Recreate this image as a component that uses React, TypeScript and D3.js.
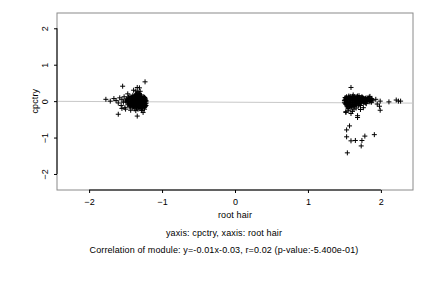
import React, { useEffect, useRef } from 'react';
import * as d3 from 'd3';

// x = root hair, y = cpctry
const leftCore: [number, number][] = [
  [-1.48, 0.02], [-1.46, -0.05], [-1.45, 0.08], [-1.44, -0.12], [-1.43, 0.03], [-1.42, -0.08],
  [-1.41, 0.12], [-1.40, -0.02], [-1.40, 0.06], [-1.39, -0.15], [-1.38, 0.10], [-1.38, -0.06],
  [-1.37, 0.01], [-1.37, 0.15], [-1.36, -0.10], [-1.36, 0.05], [-1.35, -0.18], [-1.35, 0.20],
  [-1.34, -0.03], [-1.34, 0.09], [-1.33, -0.13], [-1.33, 0.25], [-1.32, 0.02], [-1.32, -0.07],
  [-1.31, 0.14], [-1.31, -0.16], [-1.30, 0.06], [-1.30, -0.01], [-1.29, -0.11], [-1.29, 0.11],
  [-1.28, 0.03], [-1.28, -0.19], [-1.27, -0.05], [-1.27, 0.08], [-1.26, -0.13], [-1.26, 0.01],
  [-1.25, 0.05], [-1.25, -0.09], [-1.24, -0.02], [-1.24, 0.10], [-1.23, -0.15], [-1.23, 0.04],
  [-1.22, -0.06], [-1.22, 0.02], [-1.47, -0.10], [-1.49, 0.06], [-1.44, 0.13], [-1.42, 0.00],
  [-1.39, 0.04], [-1.36, -0.14], [-1.34, 0.16], [-1.32, 0.19], [-1.30, -0.20], [-1.28, 0.13],
  [-1.26, 0.09], [-1.24, -0.17], [-1.41, -0.18], [-1.45, -0.16], [-1.38, -0.21], [-1.33, -0.22],
  [-1.29, -0.04], [-1.35, 0.07], [-1.31, -0.09], [-1.27, -0.12], [-1.43, -0.03], [-1.40, 0.16],
  [-1.37, -0.04], [-1.25, 0.12], [-1.23, -0.08], [-1.22, -0.12],
  [-1.47, 0.05], [-1.46, -0.01], [-1.45, -0.07], [-1.44, 0.07], [-1.43, -0.14], [-1.42, 0.09],
  [-1.41, -0.04], [-1.41, 0.03], [-1.40, -0.10], [-1.39, 0.08], [-1.39, -0.06], [-1.38, 0.02],
  [-1.38, 0.13], [-1.37, -0.12], [-1.37, 0.07], [-1.36, 0.00], [-1.36, 0.11], [-1.35, -0.06],
  [-1.35, 0.02], [-1.34, -0.12], [-1.34, 0.04], [-1.33, -0.05], [-1.33, 0.11], [-1.32, -0.14],
  [-1.32, 0.08], [-1.31, 0.00], [-1.31, 0.05], [-1.30, -0.07], [-1.30, 0.12], [-1.29, 0.02],
  [-1.29, -0.16], [-1.28, -0.08], [-1.28, 0.07], [-1.27, 0.00], [-1.27, -0.17], [-1.26, -0.05],
  [-1.26, 0.05], [-1.25, -0.13], [-1.25, 0.00], [-1.24, 0.06], [-1.24, -0.10], [-1.23, 0.00],
  [-1.23, 0.08], [-1.22, -0.02], [-1.34, 0.22], [-1.36, 0.18], [-1.31, 0.21], [-1.29, 0.17],
  [-1.33, -0.18], [-1.27, -0.21], [-1.40, -0.13], [-1.46, 0.11], [-1.48, -0.03], [-1.50, 0.00],
];

const leftOutliers: [number, number][] = [
  [-1.77, 0.05], [-1.71, 0.0], [-1.66, 0.07], [-1.63, 0.02], [-1.60, -0.05], [-1.58, 0.09],
  [-1.56, -0.12], [-1.55, 0.04], [-1.53, -0.03], [-1.52, 0.12], [-1.51, -0.18], [-1.60, -0.36],
  [-1.34, -0.41], [-1.26, -0.31], [-1.233, 0.53], [-1.54, 0.41], [-1.34, 0.375], [-1.31, 0.365],
  [-1.39, 0.30], [-1.36, 0.28], [-1.30, 0.27], [-1.47, 0.20], [-1.55, -0.20], [-1.50, -0.22],
  [-1.43, -0.25], [-1.36, -0.26], [-1.28, -0.26], [-1.24, -0.22],
];

const rightCore: [number, number][] = [
  [1.50, 0.02], [1.51, -0.06], [1.52, 0.08], [1.53, -0.02], [1.54, 0.05], [1.55, -0.10],
  [1.56, 0.11], [1.57, 0.00], [1.58, -0.05], [1.59, 0.07], [1.60, -0.12], [1.61, 0.03],
  [1.62, 0.10], [1.63, -0.04], [1.64, 0.06], [1.65, -0.08], [1.66, 0.01], [1.67, 0.12],
  [1.68, -0.02], [1.69, 0.05], [1.70, -0.10], [1.71, 0.08], [1.72, 0.00], [1.73, -0.06],
  [1.74, 0.04], [1.75, 0.10], [1.76, -0.03], [1.77, 0.02], [1.78, 0.07], [1.79, -0.05],
  [1.80, 0.03], [1.81, 0.09], [1.82, -0.01], [1.83, 0.04], [1.84, 0.00], [1.85, 0.06],
  [1.86, 0.02], [1.87, -0.03], [1.88, 0.05], [1.89, 0.01], [1.51, 0.10], [1.53, -0.13],
  [1.55, 0.04], [1.57, -0.15], [1.58, 0.13], [1.60, 0.02], [1.62, -0.09], [1.64, -0.14],
  [1.66, 0.08], [1.68, 0.14], [1.70, 0.03], [1.72, -0.12], [1.74, 0.12], [1.52, -0.09],
  [1.54, -0.16], [1.56, -0.04], [1.59, -0.18], [1.61, 0.13], [1.63, 0.04], [1.65, 0.09],
  [1.67, -0.06], [1.69, -0.13], [1.71, 0.00], [1.73, 0.06], [1.76, 0.08], [1.78, -0.02],
  [1.80, -0.07], [1.82, 0.06], [1.84, 0.11],
  [1.50, -0.03], [1.51, 0.05], [1.52, 0.01], [1.53, 0.06], [1.54, -0.07], [1.55, 0.08],
  [1.56, -0.10], [1.57, 0.05], [1.58, 0.00], [1.59, -0.09], [1.60, 0.09], [1.61, -0.05],
  [1.62, 0.03], [1.63, 0.11], [1.64, -0.02], [1.65, 0.03], [1.66, -0.11], [1.67, 0.05],
  [1.68, 0.08], [1.69, -0.06], [1.70, 0.10], [1.71, -0.04], [1.72, 0.05], [1.73, 0.10],
  [1.74, -0.02], [1.75, 0.02], [1.76, 0.05], [1.77, -0.04], [1.78, 0.04], [1.79, 0.08],
  [1.80, 0.00], [1.81, 0.04], [1.83, 0.08], [1.85, -0.02], [1.87, 0.07], [1.53, 0.12],
  [1.56, 0.14], [1.60, -0.15], [1.58, -0.12], [1.55, -0.14], [1.62, -0.13], [1.57, 0.09],
  [1.64, 0.12], [1.66, -0.03], [1.69, 0.10],
];

const rightOutliers: [number, number][] = [
  [1.59, 0.375], [1.93, 0.05], [1.99, 0.0], [2.11, -0.02], [2.21, 0.03], [2.24, 0.0],
  [2.27, 0.0], [1.52, -0.31], [1.59, -0.34], [1.63, -0.22], [1.68, -0.45], [1.72, -0.23],
  [1.98, -0.14], [1.99, -0.25], [1.68, -0.40], [1.52, -0.29], [1.57, -0.68], [1.53, -0.79],
  [1.53, -0.98], [1.59, -1.09], [1.65, -1.08], [1.78, -0.96], [1.74, -1.08], [1.91, -0.92],
  [1.54, -1.42], [1.73, -1.23], [1.56, -0.25], [1.61, -0.28], [1.55, -0.20], [1.66, -0.19],
  [1.76, -0.18], [1.62, 0.17], [1.70, 0.15], [1.85, 0.13], [1.95, -0.08],
];

const xTicks = [-2, -1, 0, 1, 2];
const yTicks = [-2, -1, 0, 1, 2];
const fit = { slope: -0.01, intercept: -0.03 };

const xLabel = 'root hair';
const yLabel = 'cpctry';
const caption1 = 'yaxis: cpctry, xaxis: root hair';
const caption2 = 'Correlation of module: y=-0.01x-0.03, r=0.02 (p-value:-5.400e-01)';

export default function App() {
  const svgRef = useRef<SVGSVGElement>(null);

  useEffect(() => {
    if (!svgRef.current) return;
    const svg = d3.select(svgRef.current);
    svg.selectAll('*').remove();

    const left = 57, right = 413, top = 13, bottom = 190;
    const captionX = 224;
    const x = d3.scaleLinear().domain([-2.44, 2.44]).range([left, right]);
    const y = d3.scaleLinear().domain([-2.44, 2.42]).range([bottom, top]);
    const font = "'Liberation Sans', Arial, Helvetica, sans-serif";
    const txt = (sel: d3.Selection<any, any, any, any>) =>
      sel.style('font-family', font).style('font-size', '9px').style('letter-spacing', '0.12px').attr('fill', '#000');

    // frame
    svg.append('rect')
      .attr('x', left).attr('y', top)
      .attr('width', right - left).attr('height', bottom - top)
      .attr('fill', 'none').attr('stroke', '#8a8a8a').attr('stroke-width', 1);

    // regression line
    const [x0, x1] = x.domain();
    svg.append('line')
      .attr('x1', x(x0)).attr('x2', x(x1))
      .attr('y1', y(fit.slope * x0 + fit.intercept))
      .attr('y2', y(fit.slope * x1 + fit.intercept))
      .attr('stroke', '#c8c8c8').attr('stroke-width', 1);

    // points as "+"
    const pts = [...leftCore, ...leftOutliers, ...rightCore, ...rightOutliers];
    const s = 2.5;
    svg.append('g')
      .selectAll('path')
      .data(pts)
      .enter()
      .append('path')
      .attr('d', d => {
        const px = x(d[0]), py = y(d[1]);
        return `M${px - s},${py}H${px + s}M${px},${py - s}V${py + s}`;
      })
      .attr('stroke', '#000')
      .attr('stroke-width', 1)
      .attr('fill', 'none');

    // axes
    const xAxis = svg.append('g')
      .attr('transform', `translate(0,${bottom})`)
      .call(d3.axisBottom(x).tickValues(xTicks).tickSize(3).tickPadding(6).tickFormat(d3.format('d')));
    xAxis.select('.domain').attr('d', `M${x(-2)},0H${x(2)}`).attr('stroke', '#000');
    txt(xAxis.selectAll('text'));

    const yAxis = svg.append('g')
      .attr('transform', `translate(${left},0)`)
      .call(d3.axisLeft(y).tickValues(yTicks).tickSize(3).tickPadding(0).tickFormat(d3.format('d')));
    yAxis.select('.domain').attr('d', `M0,${y(-2)}V${y(2)}`).attr('stroke', '#000');
    txt(yAxis.selectAll('text')
      .attr('x', null).attr('dy', null)
      .attr('transform', 'translate(-9,0) rotate(-90)')
      .style('text-anchor', 'middle'));

    // titles
    txt(svg.append('text')
      .attr('x', x(0)).attr('y', 218)
      .attr('text-anchor', 'middle')
      .text(xLabel));
    txt(svg.append('text')
      .attr('transform', `translate(38,${y(0)}) rotate(-90)`)
      .attr('text-anchor', 'middle')
      .text(yLabel));
    txt(svg.append('text')
      .attr('x', captionX).attr('y', 236)
      .attr('text-anchor', 'middle')
      .text(caption1));
    txt(svg.append('text')
      .attr('x', captionX).attr('y', 253)
      .attr('text-anchor', 'middle')
      .text(caption2));
  }, []);

  return (
    <svg
      ref={svgRef}
      width={432}
      height={288}
      style={{ position: 'absolute', left: 0, top: 0, background: '#fff' }}
    />
  );
}
